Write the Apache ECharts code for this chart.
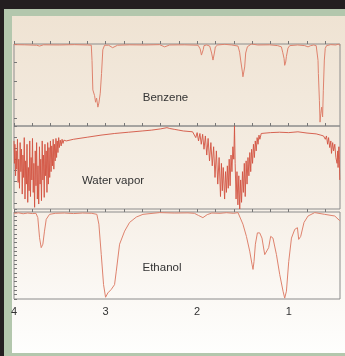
<!DOCTYPE html>
<html>
<head>
<meta charset="utf-8">
<script src="https://cdn.jsdelivr.net/npm/echarts@6/dist/echarts.min.js"></script>
<style>
  html, body { margin: 0; padding: 0; background: #231f20; }
  #spectra { width: 345px; height: 356px; }
</style>
</head>
<body>
<div id="spectra"></div>
<script>
// wavenumber in 1000 cm-1, value = absorption depth in % (0 = baseline at top of panel)
var xTicks = [4, 3.8, 3.6, 3.4, 3.2, 3, 2.8, 2.6, 2.4, 2.2, 2, 1.8, 1.6, 1.4, 1.2, 1, 0.8, 0.6];
var xLabels = [4, 3, 2, 1];
var names = ['Benzene', 'Water vapor', 'Ethanol'];

var benzene = [
  [4.00,0.8],[3.885,1],[3.754,1.5],[3.721,2.5],[3.678,1],[3.503,1.2],[3.339,0.8],[3.197,1.2],
  [3.156,1.5],[3.148,20],[3.139,56],[3.120,63],[3.109,71],[3.098,66],[3.084,77],[3.073,72],
  [3.058,60],[3.044,36],[3.030,7],[3.011,1.5],
  [2.967,1.5],[2.923,4.5],[2.869,1.5],[2.738,1],[2.574,1.2],[2.410,0.8],[2.355,3.5],[2.301,1.2],[2.137,1],
  [1.990,1.5],[1.967,6],[1.953,13.5],[1.934,7],[1.925,2],[1.896,1.2],
  [1.863,2.5],[1.842,11],[1.827,19.6],[1.812,11],[1.801,3.5],[1.776,1.2],[1.699,0.4],[1.623,1.2],
  [1.554,2.5],[1.536,10],[1.525,19.6],[1.506,34],[1.500,40],[1.481,28],[1.470,11],[1.451,3.3],
  [1.408,0],[1.339,1.2],[1.208,1],
  [1.120,2],[1.080,3.5],[1.066,10],[1.051,17.6],[1.044,26],[1.033,22],[1.025,15],[1.008,5],[0.989,2],[0.902,1.2],
  [0.825,2],[0.789,3.5],[0.760,2],[0.727,1.2],[0.700,2],[0.694,3.3],[0.680,20],[0.676,36],[0.665,68.7],
  [0.658,95.3],[0.650,85],[0.640,77],[0.630,89],[0.622,56.4],[0.611,19.6],[0.601,5.3],[0.587,2],
  [0.541,0.8],[0.486,1.2],[0.454,0],[0.443,2]
];

var waterVapor = [
  [4.00,18],[3.995,45],[3.99,22],[3.983,60],[3.976,30],[3.97,52],[3.962,16],[3.955,68],[3.948,40],
  [3.94,75],[3.933,20],[3.925,55],[3.918,28],[3.91,82],[3.903,35],[3.895,62],[3.888,14],[3.88,88],
  [3.873,42],[3.865,70],[3.858,22],[3.85,92],[3.843,50],[3.835,78],[3.828,18],[3.82,85],[3.813,38],
  [3.805,65],[3.798,15],[3.79,80],[3.783,45],[3.775,98],[3.768,30],[3.76,72],[3.753,20],[3.745,88],
  [3.738,48],[3.73,94],[3.722,25],[3.715,70],[3.708,40],[3.70,90],[3.692,18],[3.685,65],[3.678,35],
  [3.67,86],[3.662,22],[3.655,60],[3.648,30],[3.64,80],[3.632,20],[3.625,70],[3.618,26],[3.61,62],
  [3.602,18],[3.595,55],[3.588,24],[3.58,48],[3.572,16],[3.565,52],[3.558,22],[3.55,42],[3.542,15],
  [3.535,38],[3.528,18],[3.52,32],[3.512,14],[3.505,26],[3.495,17],[3.485,24],[3.475,16],[3.465,21],
  [3.455,17],[3.445,19],[3.43,18],
  [3.35,16],[3.2,13.5],[3.05,11],[2.9,9],[2.75,7.5],[2.6,6],[2.5,5],[2.4,3.5],[2.33,2],[2.3,3],
  [2.25,4],[2.2,5],[2.15,6],[2.05,7],
  [2.03,9],[2.015,14],[2.0,8],[1.985,18],[1.97,9],[1.955,22],[1.94,10],[1.925,28],[1.91,12],
  [1.895,35],[1.88,15],[1.865,42],[1.85,20],[1.835,48],[1.82,25],[1.805,62],[1.79,30],[1.775,70],
  [1.76,38],[1.745,85],[1.735,45],[1.725,78],[1.715,50],[1.70,88],[1.69,55],[1.68,80],[1.67,48],
  [1.66,75],[1.65,40],[1.64,72],[1.63,35],[1.62,55],[1.61,25],[1.60,40],[1.592,0],[1.585,45],
  [1.575,88],[1.565,55],[1.555,95],[1.545,60],[1.535,100],[1.525,65],[1.515,92],[1.505,55],
  [1.495,80],[1.485,45],[1.475,85],[1.465,42],[1.455,70],[1.445,38],[1.435,60],[1.425,32],
  [1.415,55],[1.405,28],[1.395,45],[1.385,22],[1.375,38],[1.365,18],[1.355,30],[1.345,14],
  [1.335,22],[1.325,11],[1.315,16],[1.30,9],[1.28,8],
  [1.2,8],[1.1,7.5],[1.0,8],[0.9,7],[0.8,8.5],[0.7,9.5],[0.65,11],[0.62,12],
  [0.60,16],[0.588,12],[0.575,22],[0.565,14],[0.552,26],[0.54,18],[0.533,33],[0.52,20],[0.51,30],
  [0.497,22],[0.485,38],[0.472,45],[0.465,30],[0.461,50],[0.452,25],[0.447,40],[0.443,65]
];

var ethanol = [
  [4.00,1.5],[3.95,1],[3.90,2],[3.85,1.2],[3.80,1.8],[3.76,1.5],[3.74,6.5],[3.721,29.6],[3.703,41],
  [3.685,37],[3.667,22],[3.648,8.4],[3.612,2.7],[3.55,1.5],[3.45,1.2],[3.35,1.8],[3.25,1.2],[3.15,1.5],
  [3.095,2.7],[3.073,14],[3.047,49],[3.022,83.5],[3.0,98],[2.975,93],[2.938,89],[2.902,83.5],
  [2.883,68],[2.847,37],[2.792,22],[2.738,12],[2.664,5.8],[2.592,2.7],[2.41,0.7],
  [2.25,1.2],[2.10,1],[2.03,1.5],[1.985,4],[1.937,6.5],[1.89,3],[1.84,1.2],[1.75,1.5],[1.68,0.8],[1.60,1.5],
  [1.554,0.7],[1.5,14],[1.462,28],[1.426,45],[1.401,60],[1.39,66],[1.379,57],[1.364,37],[1.342,24],
  [1.317,24],[1.292,30],[1.262,49],[1.244,51],[1.219,41],[1.197,28],[1.172,30],[1.134,49],[1.098,72],
  [1.062,91],[1.044,99],[1.025,91],[1.0,57],[0.970,30],[0.934,20],[0.905,18],[0.891,31.5],[0.869,28],
  [0.833,12],[0.789,4.6],[0.716,0.7],[0.607,2.7],[0.497,4.6],[0.443,10]
];

var chart = echarts.init(document.getElementById('spectra'));

var grids = [
  { left: 14, right: 5, top: 44, height: 82 },
  { left: 14, right: 5, top: 126, height: 83 },
  { left: 14, right: 5, top: 212, height: 87 }
];
var yIntervals = [22.5, 13.3, 5];

function xAxisFor(i) {
  return {
    type: 'value', gridIndex: i, min: 0.44, max: 4, inverse: true,
    splitLine: { show: false },
    axisLine: { show: false },
    axisTick: { show: true, inside: true, length: 3, customValues: xTicks,
                lineStyle: { color: '#777' } },
    axisLabel: { show: i === 2, customValues: xLabels, margin: 7,
                 fontSize: 11, color: '#333', fontFamily: 'Liberation Sans, Arial' }
  };
}
function yAxisFor(i) {
  return {
    type: 'value', gridIndex: i, min: 0, max: 100, inverse: true, interval: yIntervals[i],
    splitLine: { show: false },
    axisLine: { show: false },
    axisTick: { show: true, inside: true, length: 3, lineStyle: { color: '#777' } },
    axisLabel: { show: false }
  };
}
function seriesFor(i, data, color, w) {
  return {
    type: 'line', xAxisIndex: i, yAxisIndex: i, data: data,
    showSymbol: false, animation: false, silent: true,
    lineStyle: { color: color, width: w }
  };
}

var labelPos = [[165.5, 97.5], [113, 181], [162, 267.5]];

chart.setOption({
  backgroundColor: '#231f20',
  animation: false,
  graphic: [
    { type: 'rect', z: -20, shape: { x: 4, y: 9, width: 345, height: 350 },
      style: { fill: '#b3c7ad' } },
    { type: 'rect', z: -19, shape: { x: 12, y: 16, width: 340, height: 337 },
      style: { fill: { type: 'linear', x: 0, y: 0, x2: 0, y2: 1, colorStops: [
        { offset: 0, color: '#efe3d3' },
        { offset: 0.55, color: '#f6efe6' },
        { offset: 1, color: '#fefefd' }
      ] } } }
  ].concat(names.map(function (n, i) {
    return { type: 'text', z: 10, x: labelPos[i][0], y: labelPos[i][1],
      style: { text: n, fill: '#333', fontSize: 11.5, fontFamily: 'Liberation Sans, Arial',
               textAlign: 'center', textVerticalAlign: 'middle' } };
  })),
  grid: grids.map(function (g) {
    return Object.assign({ show: true, borderColor: '#8c8c8c', borderWidth: 1,
                           backgroundColor: 'transparent' }, g);
  }),
  xAxis: [xAxisFor(0), xAxisFor(1), xAxisFor(2)],
  yAxis: [yAxisFor(0), yAxisFor(1), yAxisFor(2)],
  series: [
    seriesFor(0, benzene, '#de826d', 1),
    seriesFor(1, waterVapor, '#d25442', 0.9),
    seriesFor(2, ethanol, '#de826d', 1)
  ]
});
</script>
</body>
</html>
